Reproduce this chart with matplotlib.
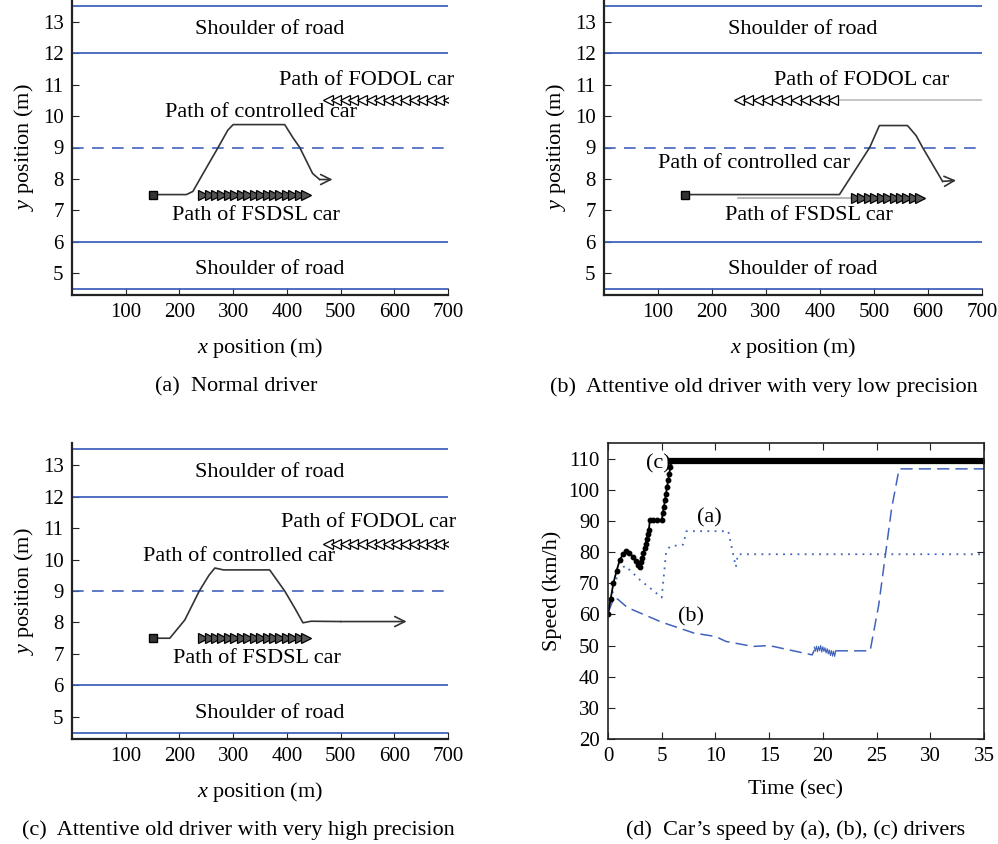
import numpy as np
import matplotlib as mpl
mpl.use('Agg')
import matplotlib.pyplot as plt

plt.rcParams['font.family'] = ['Liberation Serif', 'DejaVu Serif']
plt.rcParams['mathtext.fontset'] = 'custom'
plt.rcParams['mathtext.rm'] = 'Liberation Serif'
plt.rcParams['mathtext.it'] = 'Liberation Serif:italic'

# ---- road layout (y in m) ----
road_lines = [4.5, 6.0, 12.0, 13.5]
center_line = 9.0

# ---- panel (a) normal driver ----
ctrl_a_x = [150, 213, 225, 244, 272, 290, 300, 396, 411, 424, 448, 461, 485]
ctrl_a_y = [7.5, 7.5, 7.6, 8.17, 9.0, 9.55, 9.73, 9.73, 9.32, 9.0, 8.17, 7.98, 7.98]
fsdsl_a_x = [244, 256, 268, 280, 292, 304, 316, 328, 340, 352, 364, 376, 388, 400, 412, 424, 436]
fodol_a_x = [476, 492, 508, 524, 540, 556, 572, 588, 604, 620, 636, 652, 668, 684, 700]

# ---- panel (b) low precision ----
ctrl_b_x = [150, 436, 492, 510, 562, 578, 590, 627, 652]
ctrl_b_y = [7.5, 7.5, 9.0, 9.7, 9.7, 9.38, 9.0, 7.92, 7.95]
fsdsl_b_x = [466, 478, 490, 502, 514, 526, 538, 550, 562, 574, 586]
fsdsl_b_start = 248
fodol_b_x = [250, 267, 285, 302, 320, 337, 355, 372, 390, 407, 424]
fodol_b_end = 700

# ---- panel (c) high precision ----
ctrl_c_x = [150, 182, 210, 237, 255, 266, 282, 368, 396, 415, 430, 445, 500, 623]
ctrl_c_y = [7.5, 7.5, 8.08, 9.0, 9.5, 9.73, 9.67, 9.67, 9.0, 8.45, 7.99, 8.04, 8.03, 8.03]
fsdsl_c_x = fsdsl_a_x
fodol_c_x = fodol_a_x

# ---- panel (d) speeds ----
t_c = [0, 0.25, 0.5, 0.8, 1.1, 1.4, 1.7, 2.0, 2.3, 2.6, 2.8, 3.0,
       3.1, 3.2, 3.3, 3.4, 3.5, 3.6, 3.7, 3.8, 3.9, 4.2, 4.6, 5.0,
       5.1, 5.2, 5.3, 5.4, 5.5, 5.6, 5.7, 5.8, 5.9, 35]
v_c = [60, 65, 70, 74, 77.5, 79.3, 80.2, 79.8, 78.5, 77, 76, 75.2,
       76.7, 78.2, 79.7, 81.2, 82.7, 84.2, 85.7, 87.2, 90.2, 90.2, 90.2, 90.2,
       92.4, 94.5, 96.6, 98.7, 100.9, 103.0, 105.1, 107.2, 109.3, 109.3]
t_a = [0, 0.5, 1.0, 1.6, 3.0, 5.0, 5.4, 5.75, 7.0, 7.3, 11.2, 11.9, 12.1, 35]
v_a = [60, 68, 74, 75.6, 71, 65.4, 79.7, 81.8, 82.4, 86.7, 86.7, 75.2, 79.3, 79.3]
t_b = [0, 0.5, 0.9, 1.8, 5.0, 8.0, 10.0, 11.0, 13.5, 15.0, 19.0, 19.2]
v_b = [60.4, 64.9, 64.9, 62.2, 57.5, 54.0, 52.9, 51.3, 49.7, 50.0, 47.0, 48.5]
t_noise = [19.2, 19.3, 19.4, 19.5, 19.6, 19.7, 19.8, 19.9, 20.0, 20.1, 20.2,
           20.3, 20.4, 20.5, 20.6, 20.7, 20.8, 20.9, 21.0, 21.1, 21.2]
v_noise = [49.5, 48.2, 49.8, 48.0, 49.7, 48.3, 50.0, 47.9, 49.6, 48.1, 49.3,
           47.6, 49.0, 47.3, 48.6, 46.8, 48.4, 46.6, 48.2, 46.5, 48.3]
t_b2 = [21.2, 24.4, 25.2, 26.4, 27.1, 35]
v_b2 = [48.3, 48.3, 63.0, 94.0, 106.7, 106.7]

BLUE = '#4163bb'
FS = 16
TS = 15


def road_panel(ax, ctrl_x, ctrl_y, fsdsl_x, fodol_x, fsdsl_y=7.5,
               fsdsl_line=None, fodol_line=None, labels=None):
    for yl in road_lines:
        ax.axhline(yl, color=BLUE, lw=1.3)
    ax.axhline(center_line, color=BLUE, lw=1.2, dashes=(7, 5))
    if fsdsl_line is not None:
        ax.plot([fsdsl_line, fsdsl_x[0]], [fsdsl_y, fsdsl_y], color='#aaaaaa', lw=1.2)
    if fodol_line is not None:
        ax.plot([fodol_x[-1], fodol_line], [10.5, 10.5], color='#bbbbbb', lw=1.2)
    ax.plot(ctrl_x[:-1], ctrl_y[:-1], color='#333333', lw=1.2)
    ax.annotate('', xy=(ctrl_x[-1], ctrl_y[-1]), xytext=(ctrl_x[-2], ctrl_y[-2]),
                arrowprops=dict(arrowstyle='->', color='#333333', lw=1.2,
                                mutation_scale=18, shrinkA=0, shrinkB=0))
    ax.plot(ctrl_x[0], ctrl_y[0], marker='s', ms=6, color='#333333',
            mec='black', ls='none')
    ax.plot(fsdsl_x, [fsdsl_y] * len(fsdsl_x), ls='none', marker='>', ms=7,
            mfc='#555555', mec='black', mew=0.9)
    ax.plot(fodol_x, [10.5] * len(fodol_x), ls='none', marker='<', ms=7,
            mfc='white', mec='black', mew=0.9)
    ax.text(368, 12.75, 'Shoulder of road', ha='center', va='center', fontsize=FS)
    ax.text(368, 5.12, 'Shoulder of road', ha='center', va='center', fontsize=FS)
    for (tx, ty, s) in labels:
        ax.text(tx, ty, s, ha='center', va='center', fontsize=FS)
    ax.set_xlim(0, 700)
    ax.set_ylim(4.3, 13.7)
    ax.set_xticks([100, 200, 300, 400, 500, 600, 700])
    ax.set_yticks([5, 6, 7, 8, 9, 10, 11, 12, 13])
    ax.tick_params(direction='in', length=5, labelsize=TS, pad=6, color='#222222')
    for sp in ['top', 'right']:
        ax.spines[sp].set_visible(False)
    for sp in ['left', 'bottom']:
        ax.spines[sp].set_linewidth(1.6)
        ax.spines[sp].set_color('#222222')
    ax.set_xlabel('$x$ position (m)', fontsize=FS, labelpad=10)
    ax.set_ylabel('$y$ position (m)', fontsize=FS, labelpad=5)


fig = plt.figure(figsize=(9.98, 8.44), dpi=100)
W, H = 998.0, 844.0
ax_a = fig.add_axes([72 / W, 1 - 295 / H, 376 / W, 295 / H])
ax_b = fig.add_axes([604 / W, 1 - 295 / H, 378 / W, 295 / H])
ax_c = fig.add_axes([72 / W, 1 - 739 / H, 376 / W, 296 / H])
ax_d = fig.add_axes([608 / W, 1 - 739 / H, 376 / W, 296 / H])

road_panel(ax_a, ctrl_a_x, ctrl_a_y, fsdsl_a_x, fodol_a_x,
           labels=[(548, 11.13, 'Path of FODOL car'),
                   (351, 10.11, 'Path of controlled car'),
                   (343, 6.84, 'Path of FSDSL car')])
road_panel(ax_b, ctrl_b_x, ctrl_b_y, fsdsl_b_x, fodol_b_x, fsdsl_y=7.4,
           fsdsl_line=fsdsl_b_start, fodol_line=fodol_b_end,
           labels=[(477, 11.13, 'Path of FODOL car'),
                   (277, 8.49, 'Path of controlled car'),
                   (379, 6.84, 'Path of FSDSL car')])
road_panel(ax_c, ctrl_c_x, ctrl_c_y, fsdsl_c_x, fodol_c_x,
           labels=[(552, 11.16, 'Path of FODOL car'),
                   (310, 10.08, 'Path of controlled car'),
                   (344, 6.87, 'Path of FSDSL car')])

# ---- speed panel ----
ax_d.plot(t_a, v_a, color=BLUE, lw=1.3, ls=(0, (1, 3)))
ax_d.plot(t_b, v_b, color=BLUE, lw=1.1, dashes=(8, 4))
ax_d.plot(t_noise, v_noise, color=BLUE, lw=0.8)
ax_d.plot(t_b2, v_b2, color=BLUE, lw=1.1, dashes=(8, 4))
ax_d.plot(t_c, v_c, color='black', lw=1.3, marker='o', ms=3.2)
ax_d.plot(t_c[-2:], v_c[-2:], color='black', lw=4.5)
ax_d.text(4.66, 108.4, '(c)', ha='center', va='center', fontsize=FS)
ax_d.text(9.4, 91.0, '(a)', ha='center', va='center', fontsize=FS)
ax_d.text(7.7, 59.3, '(b)', ha='center', va='center', fontsize=FS)
ax_d.set_xlim(0, 35)
ax_d.set_ylim(20, 115)
ax_d.set_xticks(np.arange(0, 36, 5))
ax_d.set_yticks(np.arange(20, 111, 10))
ax_d.tick_params(direction='in', length=5, labelsize=TS, pad=6,
                 top=True, right=True, color='#222222')
for sp in ax_d.spines.values():
    sp.set_linewidth(1.2)
    sp.set_color('#222222')
ax_d.set_xlabel('Time (sec)', fontsize=FS, labelpad=10)
ax_d.set_ylabel('Speed (km/h)', fontsize=FS, labelpad=5)

# ---- captions ----
fig.text(236 / W, 1 - 387 / H, '(a)  Normal driver', ha='center', va='center', fontsize=FS)
fig.text(764 / W, 1 - 387 / H, '(b)  Attentive old driver with very low precision',
         ha='center', va='center', fontsize=FS)
fig.text(238 / W, 1 - 830 / H, '(c)  Attentive old driver with very high precision',
         ha='center', va='center', fontsize=FS)
fig.text(796 / W, 1 - 830 / H, '(d)  Car\u2019s speed by (a), (b), (c) drivers',
         ha='center', va='center', fontsize=FS)

fig.savefig('out.png', dpi=100)
